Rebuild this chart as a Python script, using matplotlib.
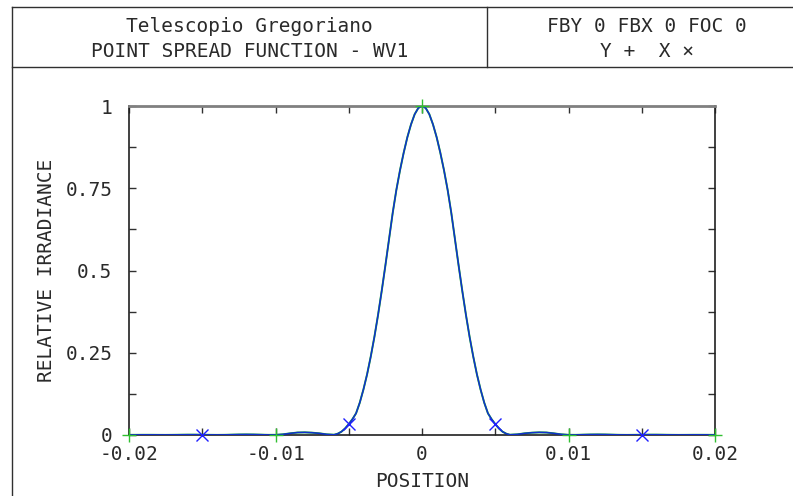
import numpy as np
import matplotlib
matplotlib.use("Agg")
import matplotlib.pyplot as plt
from matplotlib.ticker import MultipleLocator, FixedLocator, FixedFormatter

# ---- data ----
position = [
    -0.0200, -0.0195, -0.0190, -0.0185, -0.0180, -0.0175, -0.0170, -0.0165, -0.0160, -0.0155,
    -0.0150, -0.0145, -0.0140, -0.0135, -0.0130, -0.0125, -0.0120, -0.0115, -0.0110, -0.0105,
    -0.0100, -0.0095, -0.0090, -0.0085, -0.0080, -0.0075, -0.0070, -0.0065,
    -0.00600, -0.00575, -0.00550, -0.00525, -0.00500, -0.00475, -0.00450, -0.00425,
    -0.00400, -0.00375, -0.00350, -0.00325, -0.00300, -0.00275, -0.00250, -0.00225,
    -0.00200, -0.00175, -0.00150, -0.00125, -0.00100, -0.00075, -0.00050, -0.00025,
    0.0,
    0.00025, 0.00050, 0.00075, 0.00100, 0.00125, 0.00150, 0.00175, 0.00200,
    0.00225, 0.00250, 0.00275, 0.00300, 0.00325, 0.00350, 0.00375, 0.00400,
    0.00425, 0.00450, 0.00475, 0.00500, 0.00525, 0.00550, 0.00575, 0.00600,
    0.0065, 0.0070, 0.0075, 0.0080, 0.0085, 0.0090, 0.0095, 0.0100,
    0.0105, 0.0110, 0.0115, 0.0120, 0.0125, 0.0130, 0.0135, 0.0140, 0.0145, 0.0150,
    0.0155, 0.0160, 0.0165, 0.0170, 0.0175, 0.0180, 0.0185, 0.0190, 0.0195, 0.0200,
]
irradiance = [
    0.0004, 0.0005, 0.0006, 0.0006, 0.0004, 0.0003, 0.0005, 0.0008, 0.0010, 0.0010,
    0.0008, 0.0005, 0.0003, 0.0005, 0.0010, 0.0015, 0.0017, 0.0015, 0.0010, 0.0004,
    0.0005, 0.0020, 0.0050, 0.0075, 0.0080, 0.0070, 0.0050, 0.0020,
    0.0008, 0.0040, 0.0100, 0.0200, 0.0330, 0.0480, 0.0660, 0.0980,
    0.1380, 0.1840, 0.2380, 0.2980, 0.3650, 0.4380, 0.5150, 0.5950,
    0.6750, 0.7450, 0.8050, 0.8580, 0.9050, 0.9440, 0.9750, 0.9940,
    1.0000,
    0.9940, 0.9750, 0.9440, 0.9050, 0.8580, 0.8050, 0.7450, 0.6750,
    0.5950, 0.5150, 0.4380, 0.3650, 0.2980, 0.2380, 0.1840, 0.1380,
    0.0980, 0.0660, 0.0480, 0.0330, 0.0200, 0.0100, 0.0040, 0.0008,
    0.0020, 0.0050, 0.0070, 0.0080, 0.0075, 0.0050, 0.0020, 0.0005,
    0.0004, 0.0010, 0.0015, 0.0017, 0.0015, 0.0010, 0.0005, 0.0003, 0.0005, 0.0008,
    0.0010, 0.0010, 0.0008, 0.0005, 0.0003, 0.0004, 0.0006, 0.0006, 0.0005, 0.0004,
]
y_marker_pos = [-0.02, -0.01, 0.0, 0.01, 0.02]
x_marker_pos = [-0.015, -0.005, 0.005, 0.015]
xtick_labels = ["-0.02", "-0.01", "0", "0.01", "0.02"]
ytick_labels = ["0", "0.25", "0.5", "0.75", "1"]

title_left = ["Telescopio Gregoriano", "POINT SPREAD FUNCTION - WV1"]
title_right = ["FBY 0 FBX 0 FOC 0", "Y +  X \u00d7"]

FONT = "DejaVu Sans Mono"
FS = 14
TXT = "#2a2a2a"
plt.rcParams["font.family"] = [FONT, "DejaVu Sans"]

W, H = 793, 496
fig = plt.figure(figsize=(W / 100, H / 100), dpi=100)

def fx(px):
    return px / W

def fy(py):
    return 1 - py / H

# ---- header frame ----
frame_col = "#303030"
left_x, top_y, hdr_y, div_x, right_x = 12, 7, 67, 487, 807
for (x0, y0, x1, y1) in [
    (left_x, top_y, right_x, top_y),
    (left_x, hdr_y, right_x, hdr_y),
    (left_x, top_y, left_x, H + 5),
    (div_x, top_y, div_x, hdr_y),
]:
    fig.add_artist(plt.Line2D([fx(x0), fx(x1)], [fy(y0), fy(y1)], color=frame_col, lw=1.0,
                              transform=fig.transFigure))

for line, base in zip(title_left, [31.5, 57]):
    fig.text(fx((left_x + div_x) / 2), fy(base), line, ha="center", va="baseline",
             fontsize=FS, color=TXT)
for line, base in zip(title_right, [31.5, 57]):
    fig.text(fx(647), fy(base), line, ha="center", va="baseline",
             fontsize=FS, color=TXT)

# ---- axes ----
ax_l, ax_r, ax_t, ax_b = 129, 715, 106, 435
ax = fig.add_axes([fx(ax_l), fy(ax_b), (ax_r - ax_l) / W, (ax_b - ax_t) / H])
pos = np.array(position)
val = np.array(irradiance)
y_idx = [int(np.argmin(np.abs(pos - p))) for p in y_marker_pos]
x_idx = [int(np.argmin(np.abs(pos - p))) for p in x_marker_pos]

ax.plot(pos, val, color="#20b020", lw=1.4, zorder=2)
ax.plot(pos, val, color="#1030d0", lw=1.1, zorder=3)
ax.plot(pos[y_idx], val[y_idx], ls="none", marker="+", ms=10, mew=1.0, color="#30c030", zorder=4,
        clip_on=False)
ax.plot(pos[x_idx], val[x_idx], ls="none", marker="x", ms=8, mew=1.0, color="#2020ff", zorder=4,
        clip_on=False)

ax.set_xlim(-0.02, 0.02)
ax.set_ylim(0, 1)
ax.xaxis.set_major_locator(FixedLocator([-0.02, -0.01, 0.0, 0.01, 0.02]))
ax.xaxis.set_major_formatter(FixedFormatter(xtick_labels))
ax.xaxis.set_minor_locator(MultipleLocator(0.005))
ax.yaxis.set_major_locator(FixedLocator([0, 0.25, 0.5, 0.75, 1.0]))
ax.yaxis.set_major_formatter(FixedFormatter(ytick_labels))
ax.yaxis.set_minor_locator(MultipleLocator(0.125))

ax.tick_params(which="both", direction="in", top=True, right=True, color="#303030",
               labelsize=FS, labelcolor=TXT, width=1.0)
ax.tick_params(which="major", length=5)
ax.tick_params(which="minor", length=5)
ax.tick_params(axis="x", pad=7)
ax.tick_params(axis="y", pad=12)

for s in ["left", "bottom", "right"]:
    ax.spines[s].set_color("#202020")
    ax.spines[s].set_linewidth(1.2)
ax.spines["top"].set_color("#808080")
ax.spines["top"].set_linewidth(2.0)

ax.set_xlabel("POSITION", fontsize=FS, color=TXT, labelpad=6)
ax.set_ylabel("RELATIVE IRRADIANCE", fontsize=FS, color=TXT, labelpad=7)

fig.savefig("out.png", dpi=100)
